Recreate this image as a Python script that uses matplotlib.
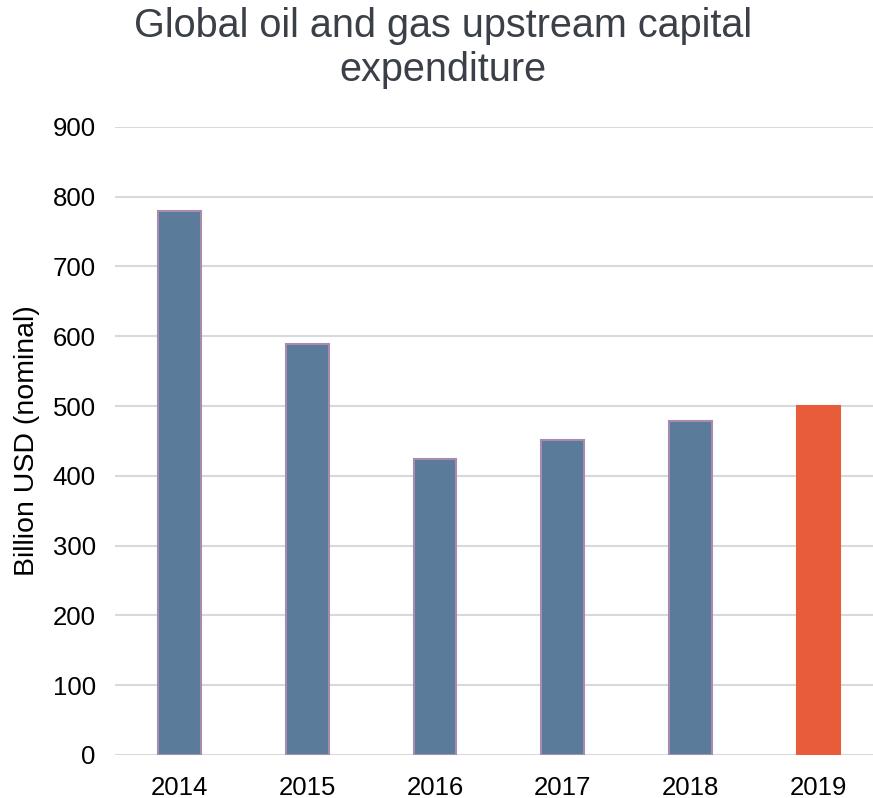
import matplotlib.pyplot as plt

plt.rcParams['font.family'] = ['Liberation Sans', 'DejaVu Sans']

years = ['2014', '2015', '2016', '2017', '2018', '2019']
capex = [780, 589, 424, 451, 478, 500]
colors = ['#5b7b9a'] * 5 + ['#e85c3a']
edges = ['#a98bb0'] * 5 + ['#e85c3a']

fig = plt.figure(figsize=(8.73, 7.98), dpi=100)
# axes run slightly past the right edge so the grid reaches the border
ax = fig.add_axes([0.132, 0.054, 0.879, 0.787])

ax.bar(range(len(years)), capex, width=0.335, color=colors,
       edgecolor=edges, linewidth=1.5, zorder=3)

ax.set_xlim(-0.5, len(years) - 0.5)
ax.set_ylim(0, 900)
ax.set_yticks(range(0, 901, 100))
ax.set_xticks(range(len(years)))
ax.set_xticklabels(years)
ax.grid(axis='y', color='#d9d9d9', linewidth=1.5, zorder=0)
for s in ax.spines.values():
    s.set_visible(False)
ax.tick_params(length=0, labelsize=18.5, colors='#000000')
ax.tick_params(axis='y', pad=14)
ax.tick_params(axis='x', pad=15)
ax.set_ylabel('Billion USD (nominal)', fontsize=20.5, labelpad=9)

fig.text(0.507, 0.94, 'Global oil and gas upstream capital\nexpenditure',
         ha='center', va='center', fontsize=28.5, color='#3b4048', linespacing=1.22)

fig.savefig('out.png', dpi=100)
